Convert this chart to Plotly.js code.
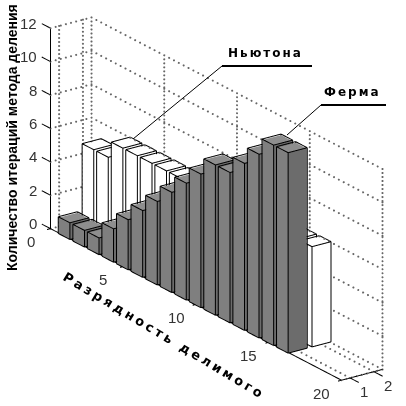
<!DOCTYPE html>
<html>
<head>
<meta charset="utf-8">
<script src="https://cdn.plot.ly/plotly-3.0.1.min.js"></script>
<style>html,body{margin:0;padding:0;background:#fff}#chart{width:406px;height:406px}</style>
</head>
<body>
<div id="chart"></div>
<script>
// values; newton 8-15 are mostly hidden behind the front row
const bits = [1,2,3,4,5,6,7,8,9,10,11,12,13,14,15,16];
const ferma = [1,1,1,2,3,4,5,6,7,8,9,9,10,11,12,12];
const newton = [5,5,6,6,6,6,6,6,6,6,6,6,6,6,6,6];
const xTicks = [0,5,10,15,20];
const yTicks = [1,2];
const zTicks = [0,2,4,6,8,10,12];
const xBox = [0,20];
const yBox = [0.64,2.36];
const zBox = [0,12];
// scene ranges are wider than the box because gl lines get clipped at the range
const xRange = [-1,21];
const yRange = [0.5,2.5];
const zRange = [0,12];

const halfBar = 0.4;
const cl_edge = '#000000';
const grey_cl = {front:'#7f7f7f', side:'#6c6c6c', top:'#8e8e8e'};
const white_cl = {front:'#ffffff', side:'#ffffff', top:'#ffffff'};

const mesh = {x:[],y:[],z:[],i:[],j:[],k:[],facecolor:[]};
const edges = {x:[],y:[],z:[]};

function addSeg(p, q) {
    edges.x.push(p[0],q[0],null);
    edges.y.push(p[1],q[1],null);
    edges.z.push(p[2],q[2],null);
}

function addBar(xc, yc, h, cl) {
    const n = mesh.x.length;
    // faces sit a hair inside the edge lines so the lines are not z-fought away
    const e = 0.012;
    const box = (d, dy, dz) => {
        const x0 = xc-halfBar+d, x1 = xc+halfBar-d, y0 = yc-halfBar+dy, y1 = yc+halfBar-dy, t = h-dz;
        return [[x0,y0,0],[x1,y0,0],[x1,y1,0],[x0,y1,0],[x0,y0,t],[x1,y0,t],[x1,y1,t],[x0,y1,t]];
    };
    box(e*2, e, e*4).forEach(p => { mesh.x.push(p[0]); mesh.y.push(p[1]); mesh.z.push(p[2]); });
    const faces = [
        [0,1,5,cl.front],[0,5,4,cl.front],
        [1,2,6,cl.side],[1,6,5,cl.side],
        [4,5,6,cl.top],[4,6,7,cl.top],
        [0,3,7,cl.side],[0,7,4,cl.side],
        [3,2,6,cl.front],[3,6,7,cl.front]
    ];
    faces.forEach(f => {
        mesh.i.push(n+f[0]); mesh.j.push(n+f[1]); mesh.k.push(n+f[2]); mesh.facecolor.push(f[3]);
    });
    const v = box(0, 0, 0);
    [[0,1],[1,2],[2,3],[3,0],[4,5],[5,6],[6,7],[7,4],[0,4],[1,5],[2,6],[3,7]].forEach(s => addSeg(v[s[0]],v[s[1]]));
}

bits.forEach((b,idx) => {
    addBar(b, 2, newton[idx], white_cl);
    addBar(b, 1, ferma[idx], grey_cl);
});

// dotted box grid, drawn as rows of small dots
const grid = {x:[],y:[],z:[]};
function addGrid(p, q, count) {
    for (let t = 0; t <= count; t++) {
        grid.x.push(p[0]+(q[0]-p[0])*t/count);
        grid.y.push(p[1]+(q[1]-p[1])*t/count);
        grid.z.push(p[2]+(q[2]-p[2])*t/count);
    }
}
const xa = xBox[0], xb = xBox[1], ya = yBox[0], yb = yBox[1], zb = zBox[1];
zTicks.forEach(z => {
    addGrid([xa,ya,z],[xa,yb,z], 8);
    addGrid([xa,yb,z],[xb,yb,z], 60);
});
xTicks.forEach(x => {
    addGrid([x,ya,0],[x,yb,0], 8);
    addGrid([x,yb,0],[x,yb,zb], 50);
});
yTicks.forEach(y => {
    addGrid([xa,y,0],[xb,y,0], 60);
    addGrid([xa,y,0],[xa,y,zb], 50);
});
addGrid([xa,yb,0],[xa,yb,zb], 50);

// axis lines and ticks
const axis = {x:[],y:[],z:[]};
function addAxis(p, q) {
    axis.x.push(p[0],q[0],null);
    axis.y.push(p[1],q[1],null);
    axis.z.push(p[2],q[2],null);
}
addAxis([xa,ya,0],[xa,ya,zb]);
addAxis([xa,ya,0],[xb,ya,0]);
addAxis([xb,ya,0],[xb,yb,0]);
zTicks.forEach(z => addAxis([xa,ya,z],[xa-0.6,ya,z]));
xTicks.forEach(x => addAxis([x,ya,0],[x,ya-0.4,0]));
yTicks.forEach(y => addAxis([xb,y,0],[xb+0.6,y,0]));

const traces = [
    {type:'mesh3d', x:mesh.x, y:mesh.y, z:mesh.z, i:mesh.i, j:mesh.j, k:mesh.k, facecolor:mesh.facecolor,
     flatshading:true, lighting:{ambient:1,diffuse:0,specular:0,roughness:1,fresnel:0}, hoverinfo:'skip', showscale:false},
    {type:'scatter3d', mode:'lines', x:edges.x, y:edges.y, z:edges.z, line:{color:cl_edge,width:2}, hoverinfo:'skip', showlegend:false},
    {type:'scatter3d', mode:'markers', x:grid.x, y:grid.y, z:grid.z, marker:{color:'#666666',size:1.2,line:{width:0}}, hoverinfo:'skip', showlegend:false},
    {type:'scatter3d', mode:'lines', x:axis.x, y:axis.y, z:axis.z, line:{color:cl_edge,width:2}, hoverinfo:'skip', showlegend:false}
];

const tickFont = {family:'Liberation Sans', size:15, color:'#333333'};
const sceneNotes = [];
zTicks.forEach(z => sceneNotes.push({x:xa,y:ya,z:z,text:String(z),showarrow:false,xanchor:'right',xshift:-12,yshift:5,font:tickFont}));
xTicks.forEach(x => sceneNotes.push({x:x,y:ya,z:0,text:String(x),showarrow:false,xshift:-20,yshift:-13,font:tickFont}));
yTicks.forEach(y => sceneNotes.push({x:xb,y:y,z:0,text:String(y),showarrow:false,xshift:14,yshift:-14,font:tickFont}));

const noAxis = {visible:false, showgrid:false, zeroline:false, showspikes:false};

const layout = {
    width:406, height:406,
    margin:{l:0,r:0,t:0,b:0},
    paper_bgcolor:'#ffffff',
    showlegend:false,
    scene:{
        domain:{x:[0,1],y:[0,1]},
        bgcolor:'#ffffff',
        aspectmode:'manual',
        aspectratio:{x:2.722,y:0.288,z:1.063},
        xaxis:Object.assign({range:xRange},noAxis),
        yaxis:Object.assign({range:yRange},noAxis),
        zaxis:Object.assign({range:zRange},noAxis),
        camera:{
            projection:{type:'orthographic'},
            eye:{x:1.384,y:-1.065,z:0.673},
            up:{x:0,y:0,z:1},
            center:{x:-0.0323,y:-0.0586,z:-0.0192}
        },
        annotations:sceneNotes
    },
    shapes:[
        {type:'line',xref:'paper',yref:'paper',x0:133/406,y0:1-139/406,x1:222/406,y1:1-66/406,line:{color:'#000',width:1}},
        {type:'line',xref:'paper',yref:'paper',x0:222/406,y0:1-66/406,x1:312/406,y1:1-66/406,line:{color:'#000',width:2}},
        {type:'line',xref:'paper',yref:'paper',x0:287/406,y0:1-135/406,x1:321/406,y1:1-105/406,line:{color:'#000',width:1}},
        {type:'line',xref:'paper',yref:'paper',x0:321/406,y0:1-105/406,x1:386/406,y1:1-105/406,line:{color:'#000',width:2}}
    ],
    annotations:[
        {xref:'paper',yref:'paper',xanchor:'center',yanchor:'middle',x:265/406,y:1-53/406,text:'<b><span style="letter-spacing:2px">Ньютона</span></b>',showarrow:false,font:{family:'DejaVu Sans',size:12,color:'#000'}},
        {xref:'paper',yref:'paper',xanchor:'center',yanchor:'middle',x:352/406,y:1-92/406,text:'<b><span style="letter-spacing:2px">Ферма</span></b>',showarrow:false,font:{family:'DejaVu Sans',size:12,color:'#000'}},
        {xref:'paper',yref:'paper',xanchor:'center',yanchor:'middle',x:12/406,y:1-138/406,text:'<b>Количество итераций метода деления</b>',textangle:-90,showarrow:false,font:{family:'Liberation Sans',size:14,color:'#000'}},
        {xref:'paper',yref:'paper',xanchor:'center',yanchor:'middle',x:164/406,y:1-335/406,text:'<b><span style="letter-spacing:3px">Разрядность делимого</span></b>',textangle:31,showarrow:false,font:{family:'DejaVu Sans',size:13,color:'#000'}}
    ]
};

Plotly.newPlot('chart', traces, layout, {displayModeBar:false});
</script>
</body>
</html>
